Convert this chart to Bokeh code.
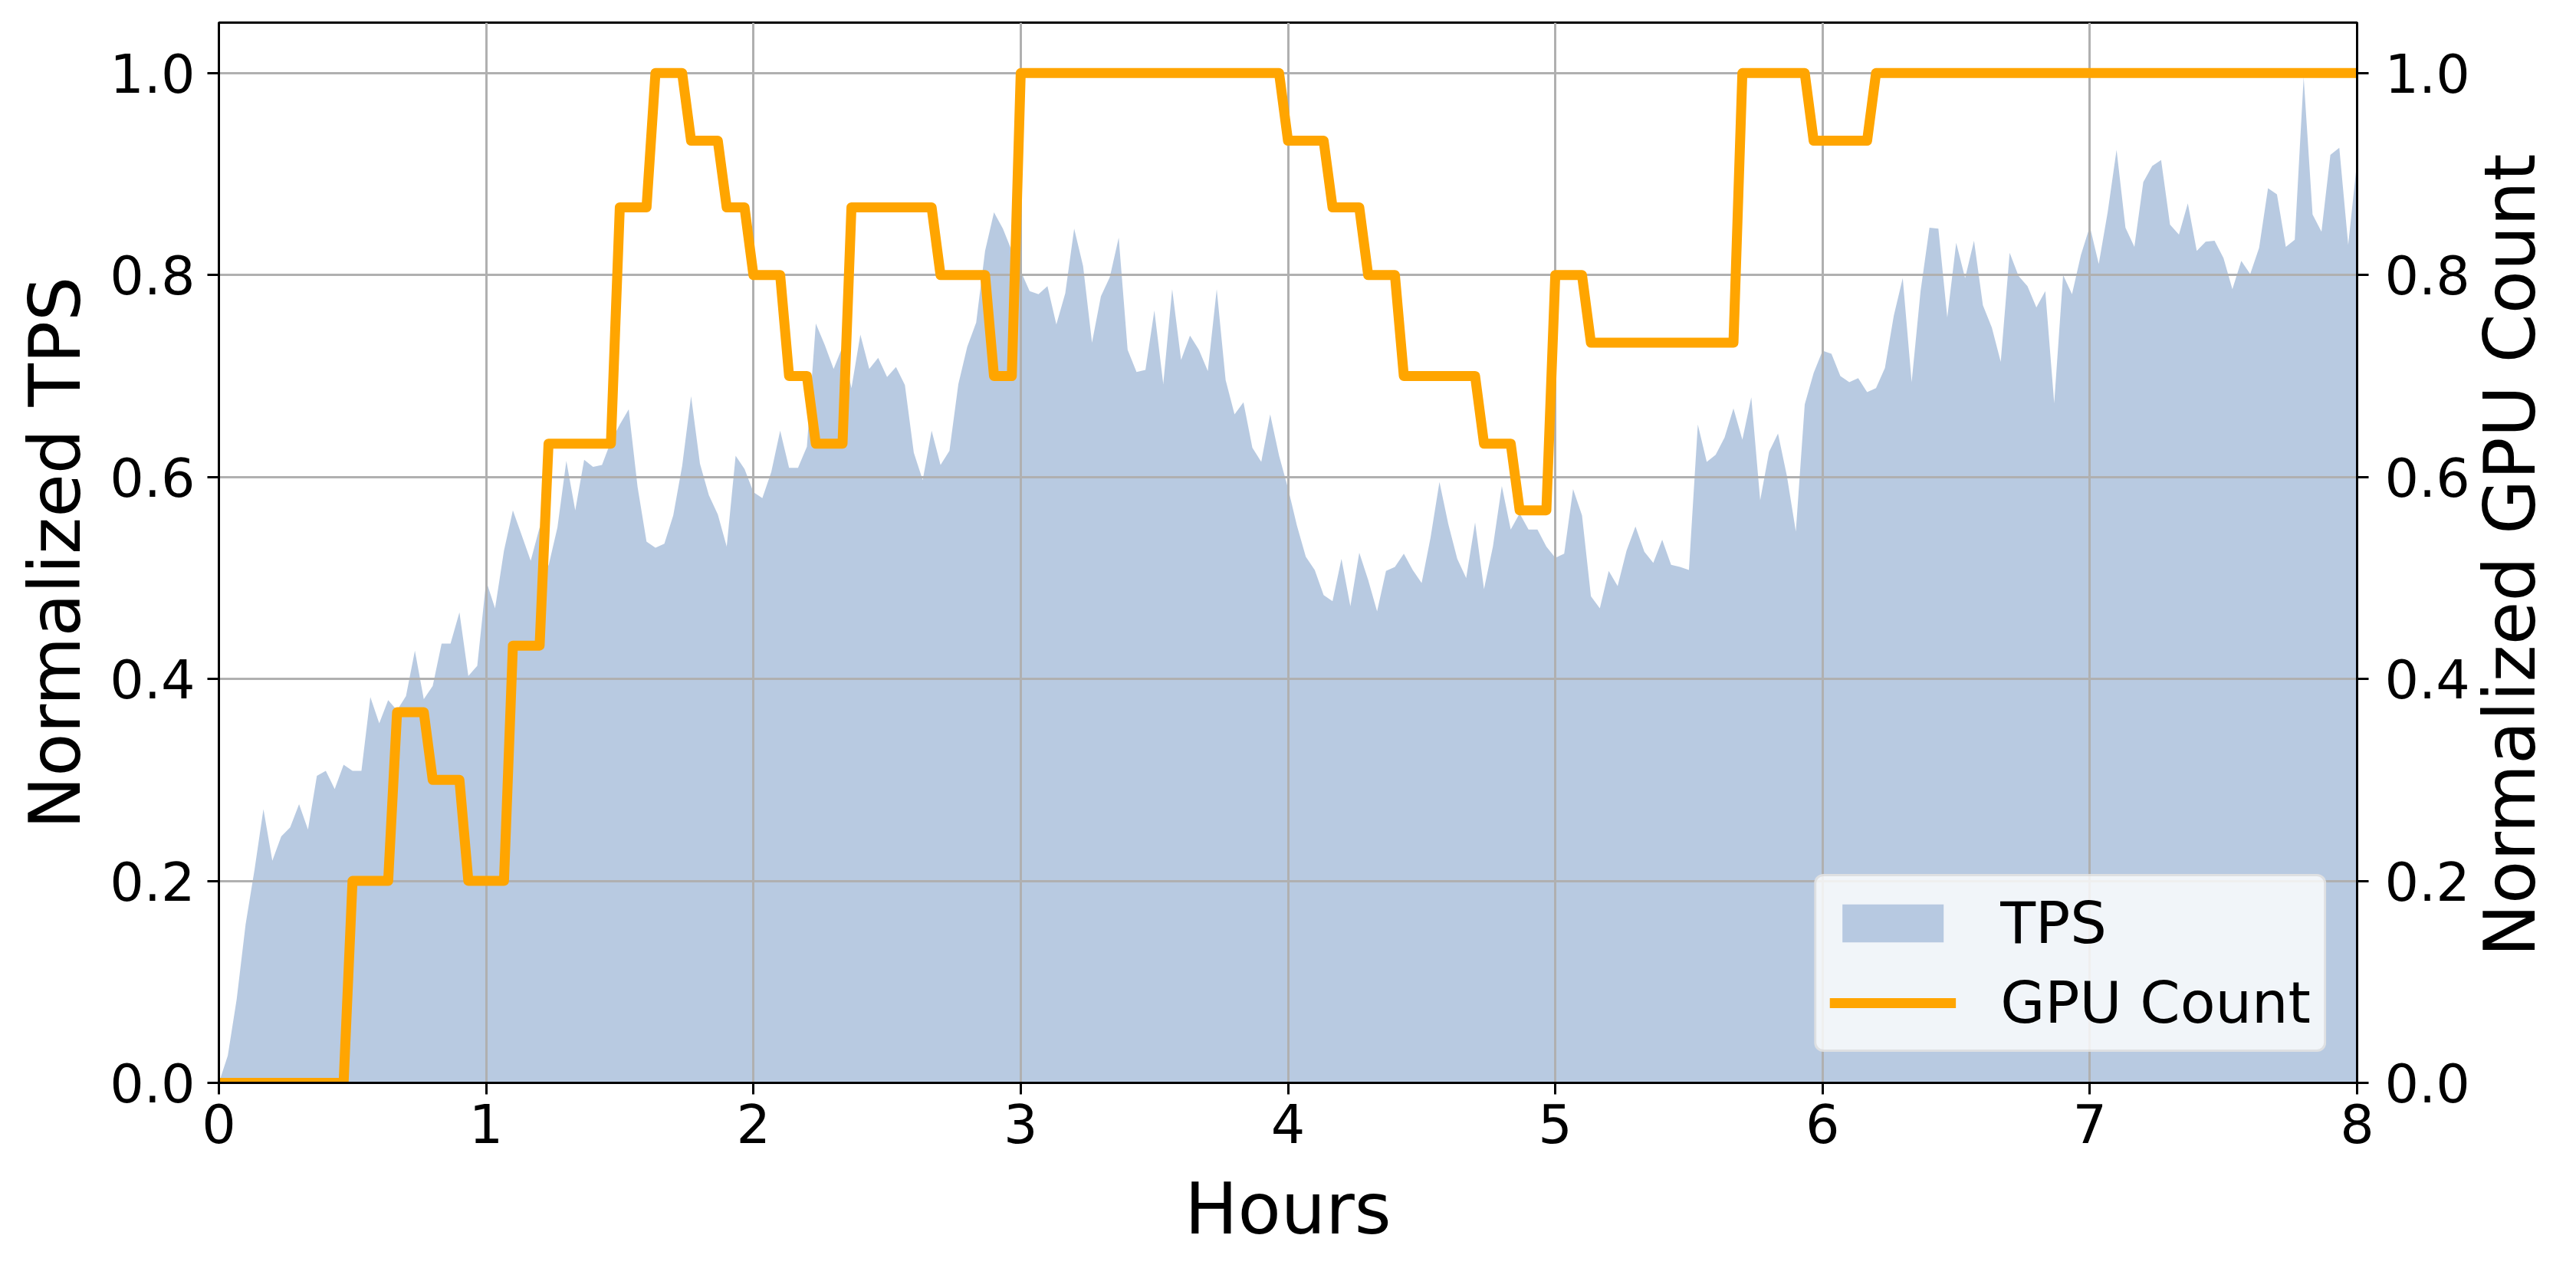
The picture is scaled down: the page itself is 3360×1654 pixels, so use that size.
import math
import numpy as np
from bokeh.plotting import figure
from bokeh.models import (Range1d, LinearAxis, FixedTicker, PrintfTickFormatter,
                          Legend, LegendItem)
from bokeh.embed import file_html
from bokeh.resources import INLINE

# time axis: one sample every 2 minutes over 8 hours
minutes = np.arange(0, 482, 2)
hours = minutes / 60.0

tps = [
    0.0, 0.027, 0.083, 0.157, 0.211, 0.271, 0.22, 0.244, 0.253, 0.276,
    0.251, 0.304, 0.309, 0.291, 0.315, 0.309, 0.309, 0.382, 0.356, 0.379,
    0.369, 0.383, 0.428, 0.38, 0.393, 0.435, 0.435, 0.466, 0.403, 0.413,
    0.497, 0.47, 0.527, 0.567, 0.542, 0.517, 0.55, 0.512, 0.55, 0.616,
    0.567, 0.617, 0.61, 0.612, 0.635, 0.652, 0.667, 0.59, 0.536, 0.53,
    0.534, 0.562, 0.611, 0.68, 0.613, 0.582, 0.563, 0.531, 0.621, 0.608,
    0.585, 0.579, 0.605, 0.646, 0.609, 0.609, 0.63, 0.752, 0.731, 0.707,
    0.729, 0.688, 0.741, 0.707, 0.718, 0.699, 0.709, 0.691, 0.624, 0.597,
    0.646, 0.612, 0.626, 0.692, 0.729, 0.753, 0.824, 0.862, 0.846, 0.824,
    0.804, 0.784, 0.781, 0.789, 0.751, 0.782, 0.846, 0.809, 0.733, 0.779,
    0.798, 0.837, 0.726, 0.704, 0.706, 0.765, 0.692, 0.786, 0.716, 0.74,
    0.726, 0.705, 0.786, 0.696, 0.662, 0.674, 0.629, 0.615, 0.662, 0.621,
    0.589, 0.552, 0.521, 0.508, 0.483, 0.477, 0.519, 0.472, 0.525, 0.498,
    0.467, 0.507, 0.511, 0.524, 0.508, 0.495, 0.54, 0.595, 0.553, 0.519,
    0.5, 0.555, 0.489, 0.531, 0.591, 0.548, 0.564, 0.548, 0.548, 0.531,
    0.52, 0.524, 0.588, 0.562, 0.482, 0.47, 0.507, 0.492, 0.527, 0.551,
    0.526, 0.515, 0.538, 0.513, 0.511, 0.508, 0.652, 0.615, 0.622, 0.639,
    0.668, 0.637, 0.679, 0.577, 0.625, 0.643, 0.601, 0.546, 0.672, 0.703,
    0.725, 0.722, 0.7, 0.694, 0.698, 0.684, 0.688, 0.708, 0.76, 0.797,
    0.694, 0.784, 0.847, 0.846, 0.758, 0.832, 0.797, 0.834, 0.77, 0.748,
    0.714, 0.822, 0.799, 0.789, 0.768, 0.784, 0.673, 0.8, 0.781, 0.82,
    0.848, 0.811, 0.862, 0.924, 0.847, 0.828, 0.892, 0.908, 0.914, 0.85,
    0.84, 0.871, 0.824, 0.833, 0.834, 0.817, 0.786, 0.814, 0.801, 0.827,
    0.886, 0.88, 0.828, 0.835, 0.996, 0.86, 0.843, 0.919, 0.926, 0.83,
    0.913,
]

gpu = (
    [0.0] * 15 + [0.2] * 5 + [0.367] * 4 + [0.3] * 4 + [0.2] * 5 +
    [0.433] * 4 + [0.633] * 8 + [0.867] * 4 + [1.0] * 4 + [0.933] * 4 +
    [0.867] * 3 + [0.8] * 4 + [0.7] * 3 + [0.633] * 4 + [0.867] * 10 +
    [0.8] * 6 + [0.7] * 3 + [1.0] * 30 + [0.933] * 5 + [0.867] * 4 +
    [0.8] * 4 + [0.7] * 9 + [0.633] * 4 + [0.567] * 4 + [0.8] * 4 +
    [0.733] * 17 + [1.0] * 8 + [0.933] * 7 + [1.0] * 55
)

x_ticks = [0, 1, 2, 3, 4, 5, 6, 7, 8]
y_ticks = [0.0, 0.2, 0.4, 0.6, 0.8, 1.0]

FONT = "DejaVu Sans"
TICK_FS = "70px"
LABEL_FS = "92px"

p = figure(frame_width=2789, frame_height=1383,
           x_range=Range1d(0, 8), y_range=Range1d(0, 1.05),
           output_backend="svg", toolbar_location=None,
           min_border_left=285, min_border_right=278,
           min_border_top=29, min_border_bottom=234,
           background_fill_color="white", border_fill_color="white")
p.extra_y_ranges = {"gpu": Range1d(0, 1.05)}

p.outline_line_color = "black"
p.outline_line_width = 3

area = p.varea(x=hours, y1=0, y2=tps, fill_color="#b0c4de", fill_alpha=0.9,
               level="image")
line = p.line(x=hours, y=gpu, line_color="#ffa500", line_width=13,
              line_join="round", y_range_name="gpu")

for g in (p.xgrid[0], p.ygrid[0]):
    g.grid_line_color = "#b0b0b0"
    g.grid_line_width = 3
    g.level = "underlay"
p.xgrid[0].ticker = FixedTicker(ticks=x_ticks)
p.ygrid[0].ticker = FixedTicker(ticks=y_ticks)

# leading no-break spaces lift the bottom-anchored title to the centred spot
right = LinearAxis(y_range_name="gpu",
                   axis_label="\u00a0" * 5 + "\u202f" + "Normalized GPU Count")
p.add_layout(right, "right")

def style_axis(ax):
    ax.axis_line_color = "black"
    ax.axis_line_width = 3
    ax.major_tick_line_color = "black"
    ax.major_tick_line_width = 3
    ax.major_tick_out = 15
    ax.major_tick_in = 0
    ax.minor_tick_out = 0
    ax.minor_tick_in = 0
    ax.major_label_text_font = FONT
    ax.major_label_text_font_size = TICK_FS
    ax.major_label_text_color = "black"
    ax.axis_label_text_font = FONT
    ax.axis_label_text_font_size = LABEL_FS
    ax.axis_label_text_font_style = "normal"
    ax.axis_label_text_color = "black"

xa = p.xaxis[0]
ya = p.yaxis[0]
for ax in (xa, ya, right):
    style_axis(ax)

xa.ticker = FixedTicker(ticks=x_ticks)
xa.axis_label = "Hours"
xa.major_label_standoff = 12
xa.axis_label_standoff = 30

ya.ticker = FixedTicker(ticks=y_ticks)
ya.formatter = PrintfTickFormatter(format="%.1f")
ya.axis_label = "Normalized TPS"
ya.major_label_standoff = 16
ya.axis_label_standoff = 14

right.ticker = FixedTicker(ticks=y_ticks)
right.formatter = PrintfTickFormatter(format="%.1f")
right.major_label_standoff = 21
right.axis_label_standoff = 50
try:
    right.axis_label_orientation = math.pi / 2
except Exception:
    pass
try:
    right.axis_label_align = "start"
except Exception:
    pass

legend = Legend(items=[LegendItem(label="TPS", renderers=[area]),
                       LegendItem(label="GPU Count", renderers=[line])],
                location="bottom_right")
legend.label_text_font = FONT
legend.label_text_font_size = "75px"
legend.label_text_color = "black"
legend.glyph_width = 165
legend.glyph_height = 62
legend.label_height = 62
legend.label_standoff = 58
legend.spacing = 16
legend.padding = 17
legend.margin = 40
legend.border_line_color = "#cccccc"
legend.border_line_width = 3
legend.background_fill_color = "white"
legend.background_fill_alpha = 0.8
try:
    legend.border_radius = 12
except Exception:
    pass
p.add_layout(legend)

open("out.html", "w").write(file_html(p, INLINE))
